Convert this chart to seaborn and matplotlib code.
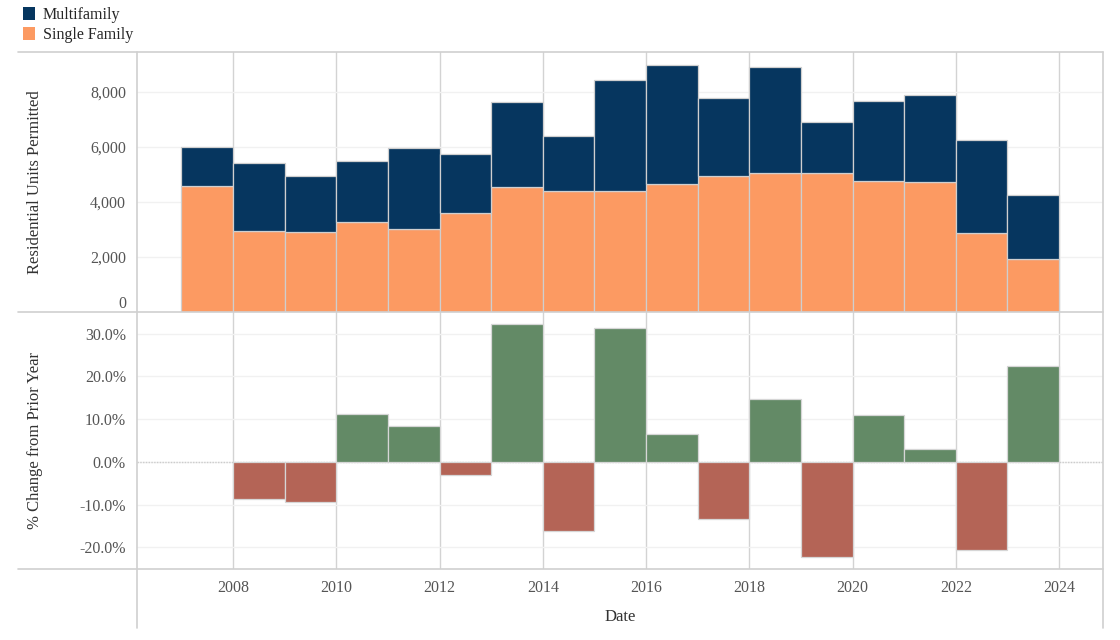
import numpy as np
import pandas as pd
import seaborn as sns
import matplotlib.pyplot as plt
from matplotlib.patches import Patch
from matplotlib.lines import Line2D
from matplotlib.ticker import FuncFormatter
import matplotlib.transforms as mtransforms

# === datos ===
years = [2007, 2008, 2009, 2010, 2011, 2012, 2013, 2014, 2015,
         2016, 2017, 2018, 2019, 2020, 2021, 2022, 2023]
single_family = [4570, 2940, 2900, 3280, 3020, 3610, 4530, 4390, 4410,
                 4640, 4940, 5050, 5050, 4750, 4720, 2870, 1910]
multifamily = [1430, 2490, 2060, 2220, 2930, 2150, 3120, 2000, 4010,
               4330, 2820, 3860, 1860, 2930, 3180, 3370, 2340]

pct_years = years[1:]
pct_change = [-8.8, -9.3, 11.3, 8.5, -3.0, 32.3, -16.1, 31.4, 6.6,
              -13.4, 14.7, -22.4, 10.9, 3.1, -20.7, 22.5]

series_order = ['Multifamily', 'Single Family']
colors = {'Multifamily': '#06365f', 'Single Family': '#fc9a62'}
pos_color = '#638a66'
neg_color = '#b46456'
grid_v = '#d3d3d3'
grid_h = '#f1f1f1'
frame = '#d0d0d0'

df = pd.DataFrame({
    'year': years * 2,
    'units': multifamily + single_family,
    'type': ['Multifamily'] * len(years) + ['Single Family'] * len(years),
})

sns.set_style('white')
plt.rcParams['font.family'] = ['Liberation Serif', 'DejaVu Serif']

W, H = 1120, 640
fig = plt.figure(figsize=(W / 100, H / 100), dpi=100)

left, right = 137, 1103
ax1 = fig.add_axes([left / W, 1 - 312 / H, (right - left) / W, (312 - 52) / H])
ax2 = fig.add_axes([left / W, 1 - 569 / H, (right - left) / W, (569 - 312) / H])

xmin, xmax = 2006.14, 2024.85
bins = list(range(years[0], years[-1] + 2))

# === panel superior: barras apiladas ===
sns.histplot(data=df, x='year', weights='units', hue='type', hue_order=series_order,
             bins=bins, multiple='stack', palette=colors, alpha=1,
             edgecolor='#cfcfcf', linewidth=0.9, legend=False, ax=ax1, zorder=3)
ax1.set_xlim(xmin, xmax)
ax1.set_ylim(0, 9450)
ax1.set_yticks([0, 2000, 4000, 6000, 8000])
ax1.yaxis.set_major_formatter(FuncFormatter(lambda v, p: f'{v:,.0f}'))
ax1.set_ylabel('Residential Units Permitted', fontsize=12, color='#333333')
ax1.set_xlabel('')

# === panel inferior: % cambio ===
bar_cols = [pos_color if v >= 0 else neg_color for v in pct_change]
ax2.axhline(0, color='#cccccc', lw=1, ls=(0, (1, 1)), zorder=1)
ax2.bar(pct_years, pct_change, width=1, align='edge', color=bar_cols,
        edgecolor='#d6d6d6', linewidth=0.9, zorder=3)
ax2.set_xlim(xmin, xmax)
ax2.set_ylim(-25.1, 35.1)
ax2.set_yticks([-20, -10, 0, 10, 20, 30])
ax2.yaxis.set_major_formatter(FuncFormatter(lambda v, p: f'{v:.1f}%'))
ax2.set_ylabel('% Change from Prior Year', fontsize=12, color='#333333')
ax2.set_xlabel('Date', fontsize=12, color='#333333', labelpad=9)

for ax in (ax1, ax2):
    for s in ax.spines.values():
        s.set_visible(False)
    ax.set_xticks(range(2008, 2025, 2))
    ax.grid(True, axis='x', color=grid_v, lw=1, zorder=0)
    ax.grid(True, axis='y', color=grid_h, lw=1, zorder=0)
    ax.set_axisbelow(True)
    ax.tick_params(length=0, labelsize=11.5, labelcolor='#555555', pad=8)
    ax.yaxis.set_label_coords(-0.097, 0.5)

ax1.tick_params(axis='x', labelbottom=False)
ax2.tick_params(axis='x', pad=8)

# etiqueta "0" desplazada hacia arriba como en el original
fig.canvas.draw()
for lbl in ax1.get_yticklabels():
    if lbl.get_text() == '0':
        lbl.set_transform(lbl.get_transform() +
                          mtransforms.ScaledTranslation(0, 10 / 100, fig.dpi_scale_trans))

# === lineas del marco ===
def fx(px):
    return px / W

def fy(py):
    return 1 - py / H

for py in (52, 312, 569):
    fig.add_artist(Line2D([fx(18), fx(right)], [fy(py), fy(py)], color=frame, lw=1.2))
for px in (left, right):
    fig.add_artist(Line2D([fx(px), fx(px)], [fy(52), fy(628)], color=frame, lw=1.2))

# === leyenda ===
handles = [Patch(facecolor=colors[k], edgecolor='none', label=k) for k in series_order]
fig.legend(handles=handles, loc='upper left', bbox_to_anchor=(0.012, 1.004),
           frameon=False, fontsize=11.5, handlelength=0.75, handleheight=0.9,
           handletextpad=0.5, labelspacing=0.25, borderaxespad=0.2)

fig.savefig('out.png', dpi=100)
